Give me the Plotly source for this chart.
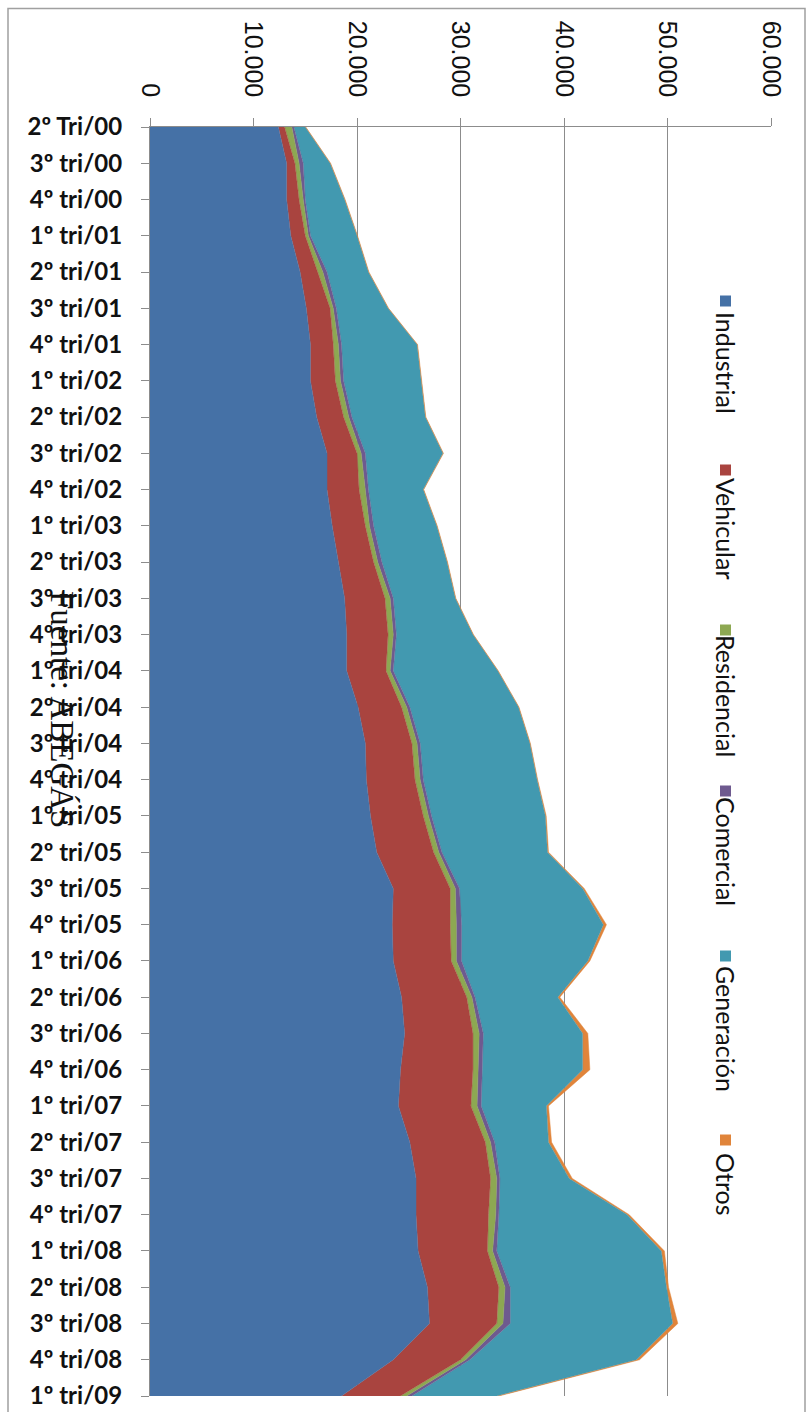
import plotly.graph_objects as go

categories = ["2º Tri/00", "3º tri/00", "4º tri/00",
              "1º tri/01", "2º tri/01", "3º tri/01", "4º tri/01",
              "1º tri/02", "2º tri/02", "3º tri/02", "4º tri/02",
              "1º tri/03", "2º tri/03", "3º tri/03", "4º tri/03",
              "1º tri/04", "2º tri/04", "3º tri/04", "4º tri/04",
              "1º tri/05", "2º tri/05", "3º tri/05", "4º tri/05",
              "1º tri/06", "2º tri/06", "3º tri/06", "4º tri/06",
              "1º tri/07", "2º tri/07", "3º tri/07", "4º tri/07",
              "1º tri/08", "2º tri/08", "3º tri/08", "4º tri/08",
              "1º tri/09"]

industrial = [12400, 13200, 13200, 13600, 14500, 15100, 15500, 15500, 16100, 17100,
              17100, 17600, 18200, 18800, 19000, 19000, 20100, 20800, 20900, 21300,
              21900, 23500, 23400, 23500, 24300, 24600, 24200, 24000, 25100, 25700,
              25700, 25900, 26800, 27000, 23500, 18500]
vehicular = [600, 800, 1200, 1400, 1700, 2300, 2200, 2400, 2600, 2900,
             3100, 3200, 3400, 3900, 4000, 3800, 4200, 4500, 4700, 5100,
             5500, 5500, 5600, 5600, 6300, 6600, 7000, 7000, 7300, 7200,
             7000, 6700, 6900, 6500, 6500, 5700]
residencial = [700, 400, 400, 300, 500, 300, 500, 500, 500, 400,
               600, 400, 400, 500, 500, 400, 500, 500, 500, 500,
               500, 500, 600, 500, 500, 600, 500, 600, 500, 600,
               700, 500, 600, 600, 500, 600]
comercial = [200, 400, 200, 200, 400, 300, 300, 300, 300, 400,
             300, 400, 400, 300, 300, 300, 300, 300, 300, 300,
             300, 400, 500, 500, 300, 400, 400, 400, 400, 300,
             300, 400, 500, 700, 400, 500]
generacion = [1100, 2600, 3800, 4500, 4000, 5000, 7300, 7500, 7100, 7500,
              5300, 6100, 6300, 6000, 7400, 10100, 10500, 10600, 11000, 11000,
              10200, 11900, 13700, 12200, 8000, 9600, 9700, 6300, 5200, 6700,
              12400, 15900, 15100, 15700, 16100, 8200]
otros = [50, 50, 50, 50, 50, 50, 50, 50, 50, 50,
         50, 50, 50, 50, 50, 50, 50, 50, 50, 80,
         100, 150, 300, 200, 200, 500, 700, 200, 300, 300,
         200, 300, 200, 500, 300, 200]

series_names = ["Industrial", "Vehicular", "Residencial", "Comercial", "Generación", "Otros"]
series_values = [industrial, vehicular, residencial, comercial, generacion, otros]
series_colors = ["#4571A6", "#A9443F", "#8DA852", "#6E5A8F", "#4299B0", "#E0843A"]

tick_vals = [0, 10000, 20000, 30000, 40000, 50000, 60000]
tick_text = ["0", "10.000", "20.000", "30.000", "40.000", "50.000", "60.000"]

W, H = 807, 1412
L, R, T, B = 150, 36, 127, 16
PW, PH = W - L - R, H - T - B


def px(x):
    return (x - L) / PW


def py(y):
    return (H - B - y) / PH


fig = go.Figure()
for name, vals, col in zip(series_names, series_values, series_colors):
    fig.add_trace(go.Scatter(
        x=vals, y=categories, name=name, orientation="h", stackgroup="one",
        mode="lines", line=dict(color=col, width=0.5), fillcolor=col,
        showlegend=False))

# legend (rotated)
legend_items = [(301, 363), (470, 529), (630, 696), (791, 851), (956, 1029), (1140, 1184)]
shapes = []
annotations = []
for (sq, tc), name, col in zip(legend_items, series_names, series_colors):
    shapes.append(dict(type="rect", xref="paper", yref="paper",
                       x0=px(720), x1=px(731), y0=py(sq - 5.5), y1=py(sq + 5.5),
                       fillcolor=col, line=dict(width=0)))
    annotations.append(dict(text=name, xref="paper", yref="paper", x=px(726), y=py(tc),
                            xanchor="center", yanchor="middle", textangle=90,
                            showarrow=False, font=dict(family="Lato", size=25, color="#111")))

annotations.append(dict(text="Fuente: ABEGÁS", xref="paper", yref="paper", x=px(62), y=py(709),
                        xanchor="center", yanchor="middle", textangle=90, showarrow=False,
                        font=dict(family="Liberation Serif", size=33, color="#111")))

# outer frame
shapes.append(dict(type="rect", xref="paper", yref="paper", x0=px(8), x1=px(805),
                   y0=py(1420), y1=py(8.5), line=dict(color="#A0A0A0", width=1.5),
                   layer="below"))

fig.update_layout(
    width=W, height=H, margin=dict(l=L, r=R, t=T, b=B, autoexpand=False),
    paper_bgcolor="white", plot_bgcolor="white",
    shapes=shapes, annotations=annotations, showlegend=False,
    xaxis=dict(side="top", range=[0, 60000], tickvals=tick_vals, ticktext=tick_text,
               tickangle=90, showgrid=True, gridcolor="#8C8C8C", gridwidth=1,
               showline=True, linecolor="#8C8C8C", linewidth=1, ticks="outside",
               ticklen=8, tickcolor="#8C8C8C", zeroline=False, ticklabelstandoff=12,
               automargin=False,
               tickfont=dict(family="Liberation Sans", size=25, color="#111")),
    yaxis=dict(type="category", categoryorder="array", categoryarray=categories,
               range=[len(categories) - 1, 0], showgrid=False, showline=True,
               linecolor="#8C8C8C", linewidth=1, ticks="outside", ticklen=8,
               tickcolor="#8C8C8C", zeroline=False, ticklabelstandoff=14,
               automargin=False,
               tickfont=dict(family="Lato", size=24, color="#111", weight="bold")),
)

fig.write_html("out.html", config={"displayModeBar": False},
               post_script="document.body.style.margin='0';")
